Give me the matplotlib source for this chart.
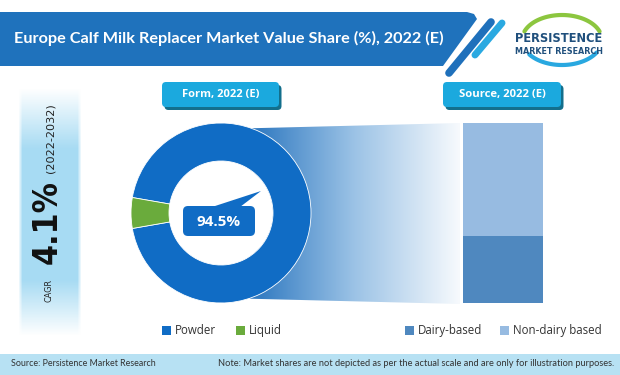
import numpy as np
import matplotlib.pyplot as plt
from matplotlib.patches import Polygon, FancyBboxPatch, Rectangle, Circle
from matplotlib.colors import LinearSegmentedColormap, to_rgb

# chart data
title = "Europe Calf Milk Replacer Market Value Share (%), 2022 (E)"
cagr = 4.1
cagr_period = "(2022-2032)"

form_title = "Form, 2022 (E)"
form_labels = ["Powder", "Liquid"]
form_share = [94.5, 5.5]
form_colors = ["#106cc5", "#6aab3c"]

source_title = "Source, 2022 (E)"
source_labels = ["Dairy-based", "Non-dairy based"]
source_share = [37.5, 62.5]
source_colors = ["#4f88bf", "#97bbe1"]

footer_source = "Source: Persistence Market Research"
footer_note = ("Note: Market shares are not depicted as per the actual scale "
               "and are only for illustration purposes.")

W, H = 620, 375
fig = plt.figure(figsize=(W / 100, H / 100), dpi=100)
renderer = fig.canvas.get_renderer()


def px_box(x0, y0, x1, y1):
    """pixel box (top-left origin) -> figure fraction rect"""
    return [x0 / W, 1 - y1 / H, (x1 - x0) / W, (y1 - y0) / H]


def fit(ax, x, y, s, length, **kw):
    """place text and scale the font so it spans `length` pixels"""
    t = ax.text(x, y, s, **kw)
    bb = t.get_window_extent(renderer)
    cur = bb.height if kw.get("rotation", 0) == 90 else bb.width
    t.set_fontsize(t.get_fontsize() * length / cur)
    return t


# background layer
bg = fig.add_axes([0, 0, 1, 1])
bg.set_xlim(0, W)
bg.set_ylim(H, 0)
bg.axis("off")

# title banner + stripes
bg.add_patch(Polygon([(0, 12), (467, 12), (474, 14), (477, 19), (443, 66), (0, 66)],
                     closed=True, fc="#1f72bc", ec="none"))
bg.plot([491, 449], [22, 73], color="#1f70bb", lw=5.5, solid_capstyle="round")
bg.plot([502, 475], [23, 55], color="#2aa9e1", lw=5, solid_capstyle="round")

# logo
t = np.linspace(np.radians(160), np.radians(20), 60)
bg.plot(562 + 40 * np.cos(t), 40 - 25 * np.sin(t), color="#8cc63f", lw=3, solid_capstyle="round")
t = np.linspace(np.radians(215), np.radians(330), 60)
bg.plot(562 + 40 * np.cos(t), 40 - 25 * np.sin(t), color="#29a8e0", lw=3, solid_capstyle="round")
fit(bg, 559, 39, "PERSISTENCE", 88, family="DejaVu Sans", fontstretch="condensed",
    fontweight="bold", color="#1f4f7c", ha="center", va="center", fontsize=14)
fit(bg, 559, 51.5, "MARKET RESEARCH", 88, family="DejaVu Sans", fontweight="bold",
    color="#1f4f7c", ha="center", va="center", fontsize=5)

fit(bg, 14, 38, title, 430, family="Lato", fontweight="bold", color="white",
    ha="left", va="center", fontsize=10)

# CAGR panel
ys = np.arange(85, 340)
ay = np.clip(np.minimum((ys - 88) / 60, (335 - ys) / 55), 0, 1)
xs = np.arange(18, 82)
axx = np.clip(np.minimum((xs - 18) / 4, (81 - xs) / 4), 0, 1)
rgba = np.zeros((len(ys), len(xs), 4))
rgba[..., :3] = to_rgb("#a7dbf3")
rgba[..., 3] = ay[:, None] * axx[None, :]
bg.imshow(rgba, extent=[18, 82, 340, 85], aspect="auto", interpolation="bilinear", zorder=1)

fit(bg, 49, 290, "CAGR", 23, family="DejaVu Sans", color="#222222", rotation=90,
    ha="center", va="center", fontsize=8)
fit(bg, 47, 222, f"{cagr}%", 84, family="DejaVu Sans", fontstretch="condensed",
    fontweight="bold", color="#111111", rotation=90, ha="center", va="center", fontsize=30)
fit(bg, 51, 138, cagr_period, 70, family="DejaVu Sans", color="#222222", rotation=90,
    ha="center", va="center", fontsize=8)

# gradient band linking donut and bar
band = Polygon([(222, 129), (460, 123), (460, 304), (222, 298)], closed=True,
               fc="none", ec="none")
bg.add_patch(band)
grad_cmap = LinearSegmentedColormap.from_list("band", ["#2b76bf", "#9cc3e6", "#f7fafd"])
img = bg.imshow(np.linspace(0, 1, 256)[None, :], cmap=grad_cmap, extent=[250, 460, 304, 122],
                aspect="auto", zorder=2)
img.set_clip_path(band)

# footer
bg.add_patch(Rectangle((0, 354), W, 21, fc="#b7e1f3", ec="none"))
fit(bg, 11, 364, footer_source, 145, family="Lato", color="#333333",
    ha="left", va="center", fontsize=7)
fit(bg, 218, 364, footer_note, 396, family="Lato", color="#333333",
    ha="left", va="center", fontsize=7)

bg.set_xlim(0, W)
bg.set_ylim(H, 0)

# donut
pie_ax = fig.add_axes(px_box(131, 123, 311, 303))
hole = 52 / 90
start = 180 - (100 - form_share[1] / 2) * 3.6
pie_ax.add_patch(Circle((0, 0), hole, fc="white", ec="none", zorder=0))
pie_ax.pie(form_share, colors=form_colors, startangle=start, counterclock=True,
           wedgeprops=dict(width=1 - hole, edgecolor="white", linewidth=0.6))
pie_ax.set_xlim(-1, 1)
pie_ax.set_ylim(-1, 1)
pie_ax.axis("off")

# stacked bar
bar_ax = fig.add_axes(px_box(463, 123, 543, 303))
bottom = 0
for share, col in zip(source_share, source_colors):
    bar_ax.bar(0, share, bottom=bottom, width=1, color=col)
    bottom += share
bar_ax.set_xlim(-0.5, 0.5)
bar_ax.set_ylim(0, 100)
bar_ax.axis("off")

# overlay: labels, buttons, legends
top = fig.add_axes([0, 0, 1, 1])
top.set_xlim(0, W)
top.set_ylim(H, 0)
top.axis("off")

top.add_patch(FancyBboxPatch((183, 206), 72, 30, boxstyle="round,pad=0,rounding_size=5",
                             fc=form_colors[0], ec="none"))
top.add_patch(Polygon([(212, 207), (261, 191), (240, 207)], closed=True,
                      fc=form_colors[0], ec="none"))
top.text(219, 221.5, f"{form_share[0]}%", family="Open Sans", fontweight="bold",
         color="white", fontsize=11, ha="center", va="center")


def button(x0, y0, x1, y1, label, text_len):
    top.add_patch(FancyBboxPatch((x0 + 2.5, y0 + 3), x1 - x0, y1 - y0,
                                 boxstyle="round,pad=0,rounding_size=4", fc="#136f8c", ec="none"))
    top.add_patch(FancyBboxPatch((x0, y0), x1 - x0, y1 - y0,
                                 boxstyle="round,pad=0,rounding_size=4", fc="#1ba9de", ec="none"))
    fit(top, (x0 + x1) / 2, (y0 + y1) / 2 + 0.5, label, text_len, family="Open Sans",
        fontweight="bold", color="white", ha="center", va="center", fontsize=8)


button(162, 82, 279, 107, form_title, 78)
button(443, 82, 561, 107, source_title, 87)

legend_x = [162, 236, 405, 500]
for lx, lab, col in zip(legend_x, form_labels + source_labels, form_colors + source_colors):
    top.add_patch(Rectangle((lx, 326), 8.5, 8.5, fc=col, ec="none"))
    top.text(lx + 13, 330.5, lab, family="Open Sans", color="#333333", fontsize=8.3,
             ha="left", va="center")

fig.savefig("out.png", dpi=100)
